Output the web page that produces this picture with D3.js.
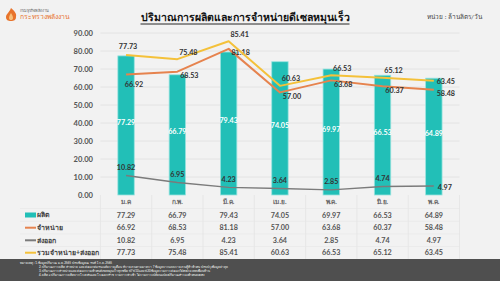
<!DOCTYPE html>
<html><head><meta charset="utf-8">
<script src="https://cdn.jsdelivr.net/npm/d3@7"></script>
<style>
html,body{margin:0;padding:0;background:#f2f2f2;}
svg{display:block;font-family:"Lato","Open Sans",sans-serif;}
</style></head>
<body><svg id="c" width="500" height="281"></svg>
<script>
const months = ["ม.ค", "ก.พ.", "มี.ค.", "เม.ย.", "พ.ค.", "มิ.ย.", "พ.ค."];
const production = [77.29, 66.79, 79.43, 74.05, 69.97, 66.53, 64.89];
const sales = [66.92, 68.53, 81.18, 57.00, 63.68, 60.37, 58.48];
const exportsV = [10.82, 6.95, 4.23, 3.64, 2.85, 4.74, 4.97];
const total = [77.73, 75.48, 85.41, 60.63, 66.53, 65.12, 63.45];
const yTicks = [0, 10, 20, 30, 40, 50, 60, 70, 80, 90];
const seriesNames = ["ผลิต", "จำหน่าย", "ส่งออก", "รวมจำหน่าย+ส่งออก"];
const title = "ปริมาณการผลิตและการจำหน่ายดีเซลหมุนเร็ว";
const unit = "หน่วย : ล้านลิตร/วัน";
const notes = [
  "หมายเหตุ : 1. ข้อมูลปริมาณ ม.ค. 2565 ปรับข้อมูล ณ วันที่ 1 ก.ค. 2565",
  "2. ปริมาณการผลิต จำหน่าย และส่งออก ต่อวันเฉลี่ยรายเดือน ที่รายงานตามมาตรา 7 ข้อมูลจากแบบรายงานผู้ค้าน้ำมัน ปรับปรุงข้อมูลล่าสุด",
  "3. ปริมาณการจำหน่ายและส่งออกรวมน้ำมันดีเซลหมุนเร็วทุกชนิด บี7 บี10 และบี20 ข้อมูลรวมการส่งออกไปยังประเทศเพื่อนบ้าน",
  "4. ผลิต = ปริมาณการผลิตจากโรงกลั่นและโรงแยกก๊าซ รวมการนำเข้า ไม่รวมการเปลี่ยนแปลงปริมาณสำรองน้ำมันคงคลัง"
];

const svg = d3.select("#c");
const colBar = "#22bfb7", colSales = "#e6834e", colExp = "#7b7b7b", colTot = "#f4c13a";

const x = d3.scaleBand().domain(d3.range(months.length)).range([100.4, 459.5])
  .paddingInner(0.68).paddingOuter(0.34);
const step = x.step();
const cx = i => x(i) + x.bandwidth() / 2;
const y = d3.scaleLinear().domain([0, 90]).range([195, 33]);

// gridlines
svg.append("g").selectAll("line").data(yTicks.slice(1)).join("line")
  .attr("x1", 100.4).attr("x2", 459.5).attr("y1", d => y(d)).attr("y2", d => y(d))
  .attr("stroke", "#e0e0e0").attr("stroke-width", 0.8);

// y axis labels
const ya = svg.append("g").attr("transform", "translate(93,0)")
  .call(d3.axisLeft(y).tickValues(yTicks).tickFormat(d3.format(".2f")).tickSize(0).tickPadding(0));
ya.select(".domain").remove();
ya.selectAll("text").attr("font-size", 7.6).attr("font-weight", "bold").attr("fill", "#555")
  .attr("font-family", "Lato, sans-serif");

// bars
svg.append("g").selectAll("rect").data(production).join("rect")
  .attr("x", (d, i) => x(i)).attr("width", x.bandwidth())
  .attr("y", d => y(d)).attr("height", d => y(0) - y(d))
  .attr("fill", colBar).attr("stroke", "#9ae3df").attr("stroke-width", 0.8);
svg.append("g").selectAll("text").data(production).join("text")
  .attr("x", (d, i) => cx(i)).attr("y", d => (y(d) + y(0)) / 2 - 3)
  .attr("text-anchor", "middle").attr("dy", "0.35em")
  .attr("font-size", 7.2).attr("font-weight", "bold").attr("fill", "#fff")
  .text(d => d.toFixed(2));

function drawLine(vals, color, w, labelPos) {
  const line = d3.line().x((d, i) => cx(i)).y(d => y(d));
  svg.append("path").datum(vals).attr("d", line).attr("fill", "none")
    .attr("stroke", color).attr("stroke-width", w).attr("stroke-linejoin", "round");
  svg.append("g").selectAll("text").data(vals).join("text")
    .attr("x", (d, i) => cx(i) + labelPos(i)[0]).attr("y", d => y(d))
    .attr("dy", (d, i) => labelPos(i)[1] + 2.6)
    .attr("text-anchor", "middle")
    .attr("font-size", 7.2).attr("font-weight", "bold").attr("fill", "#333")
    .text(d => d.toFixed(2));
}
const last = months.length - 1;
drawLine(exportsV, colExp, 1.4, i => i === last ? [11, 1] : [0, -8]);
drawLine(sales, colSales, 2, i => i === 0 ? [8, 10] : [12, 4]);
drawLine(total, colTot, 2, i => i === 0 ? [2, -9] : i === last ? [12, 1] : [11, -7]);

// table
const rowY = [215, 227.7, 240.3, 252.7];
const catY = 202;
const tbl = svg.append("g");
d3.range(months.length + 1).forEach(k => {
  tbl.append("line").attr("x1", 100.4 + k * step).attr("x2", 100.4 + k * step)
    .attr("y1", 195).attr("y2", 259).attr("stroke", "#e2e2e2").attr("stroke-width", 0.7);
});
[208.5, 221.3, 234, 246.5].forEach(v => {
  tbl.append("line").attr("x1", 20).attr("x2", 459.5).attr("y1", v).attr("y2", v)
    .attr("stroke", "#e6e6e6").attr("stroke-width", 0.6);
});
tbl.selectAll(".cat").data(months).join("text").attr("class", "cat")
  .attr("x", (d, i) => cx(i)).attr("y", catY).attr("dy", "0.35em")
  .attr("text-anchor", "middle").attr("font-size", 6.5).attr("font-weight", "bold").attr("fill", "#666")
  .text(d => d);
const rows = [production, sales, exportsV, total];
const keyColors = [colBar, colSales, colExp, colTot];
rows.forEach((vals, r) => {
  tbl.append("g").selectAll("text").data(vals).join("text")
    .attr("x", (d, i) => cx(i)).attr("y", rowY[r]).attr("dy", "0.35em")
    .attr("text-anchor", "middle").attr("font-size", 7.2).attr("font-weight", "bold").attr("fill", "#555")
    .text(d => d.toFixed(2));
  if (r === 0) {
    tbl.append("rect").attr("x", 25).attr("y", rowY[r] - 2.5).attr("width", 11).attr("height", 5)
      .attr("fill", colBar);
  } else {
    tbl.append("line").attr("x1", 25).attr("x2", 36).attr("y1", rowY[r]).attr("y2", rowY[r])
      .attr("stroke", keyColors[r]).attr("stroke-width", 2);
  }
  tbl.append("text").attr("x", 37).attr("y", rowY[r]).attr("dy", "0.35em")
    .attr("font-size", 7).attr("font-weight", "bold").attr("fill", "#444")
    .text(seriesNames[r]);
});

// title & unit
const t = svg.append("text").attr("x", 245).attr("y", 21).attr("text-anchor", "middle")
  .attr("font-size", 10.5).attr("font-weight", "bold").attr("fill", "#111").text(title);
const bb = t.node().getBBox();
svg.append("line").attr("x1", bb.x).attr("x2", bb.x + bb.width).attr("y1", 24).attr("y2", 24)
  .attr("stroke", "#111").attr("stroke-width", 0.9);
svg.append("text").attr("x", 482).attr("y", 19).attr("text-anchor", "end")
  .attr("font-size", 6.5).attr("fill", "#444").text(unit);

// logo
const logo = svg.append("g");
logo.append("path").attr("d", "M11,8 C14,11 17,13 16,17 C16,20 14,21 11,21 C8,21 6,20 6,17 C6,14 9,13 11,8 Z")
  .attr("fill", "#e8742c");
logo.append("path").attr("d", "M11,13 C12,15 13,16 13,18 C13,19.5 12,20 11,20 C10,20 9,19.5 9,18 C9,16 10,15 11,13 Z")
  .attr("fill", "#f8c07a");
logo.append("text").attr("x", 20).attr("y", 12).attr("font-size", 4).attr("fill", "#666").text("กรมธุรกิจพลังงาน");
logo.append("text").attr("x", 20).attr("y", 19).attr("font-size", 6.8).attr("fill", "#e8742c").text("กระทรวงพลังงาน");

// footer
svg.append("rect").attr("x", 0).attr("y", 259).attr("width", 500).attr("height", 22).attr("fill", "#4f4f4f");
svg.append("g").selectAll("text").data(notes).join("text")
  .attr("x", (d, i) => i === 0 ? 20 : 39).attr("y", (d, i) => 264 + i * 4)
  .attr("font-size", 2.9).attr("fill", "#fff").text(d => d);
</script></body></html>
